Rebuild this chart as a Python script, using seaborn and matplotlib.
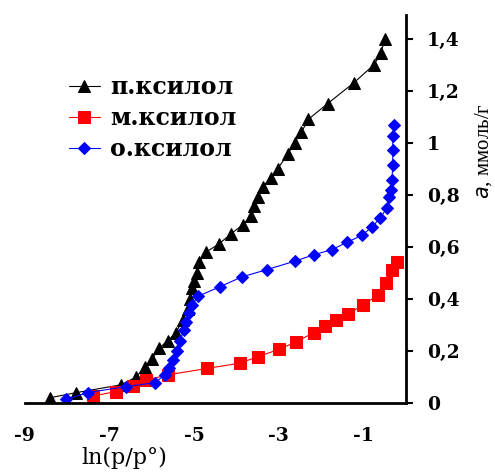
import matplotlib
matplotlib.use("Agg")
import matplotlib.pyplot as plt
import seaborn as sns
import pandas as pd

p_x = [-8.41, -7.78, -6.72, -6.37, -6.15, -5.99, -5.83, -5.62, -5.43, -5.27, -5.15, -5.09,
       -5.04, -5.0, -4.93, -4.88, -4.72, -4.42, -4.13, -3.85, -3.65, -3.58, -3.50, -3.38,
       -3.19, -3.03, -2.79, -2.63, -2.47, -2.30, -1.85, -1.23, -0.75, -0.59, -0.49]
p_y = [0.02, 0.04, 0.07, 0.10, 0.14, 0.17, 0.21, 0.24, 0.27, 0.32, 0.36, 0.40,
       0.44, 0.47, 0.50, 0.54, 0.58, 0.61, 0.65, 0.685, 0.72, 0.755, 0.79, 0.83,
       0.865, 0.90, 0.955, 1.0, 1.04, 1.09, 1.15, 1.23, 1.30, 1.345, 1.40]

m_x = [-7.39, -6.84, -6.45, -6.14, -5.62, -4.69, -3.92, -3.49, -3.0, -2.59, -2.18, -1.91,
       -1.66, -1.36, -1.01, -0.65, -0.47, -0.34, -0.20]
m_y = [0.027, 0.044, 0.067, 0.088, 0.108, 0.133, 0.153, 0.178, 0.206, 0.235, 0.27, 0.296,
       0.319, 0.342, 0.377, 0.415, 0.46, 0.509, 0.54]

o_x = [-8.02, -7.51, -6.61, -5.92, -5.70, -5.59, -5.50, -5.40, -5.33, -5.25, -5.20, -5.12,
       -5.05, -4.91, -4.40, -3.88, -3.29, -2.62, -2.18, -1.75, -1.38, -1.04, -0.79, -0.61,
       -0.45, -0.39, -0.35, -0.33, -0.31, -0.31, -0.31, -0.29]
o_y = [0.014, 0.04, 0.063, 0.078, 0.108, 0.133, 0.165, 0.20, 0.24, 0.28, 0.31, 0.345,
       0.375, 0.41, 0.446, 0.484, 0.512, 0.545, 0.569, 0.589, 0.618, 0.644, 0.678, 0.71,
       0.749, 0.791, 0.819, 0.855, 0.915, 0.973, 1.024, 1.069]

labels = ["п.ксилол", "м.ксилол", "о.ксилол"]
x_ticks = [-9, -7, -5, -3, -1]
y_ticks = [0, 0.2, 0.4, 0.6, 0.8, 1.0, 1.2, 1.4]
y_tick_labels = ["0", "0,2", "0,4", "0,6", "0,8", "1", "1,2", "1,4"]

sns.set_style("white")
plt.rcParams["font.family"] = ["DejaVu Serif", "Liberation Serif"]
plt.rcParams["axes.unicode_minus"] = False
plt.rcParams["text.color"] = "black"
plt.rcParams["axes.labelcolor"] = "black"

fig = plt.figure(figsize=(4.95, 4.73), dpi=100)
ax = fig.add_axes([0.05, 0.148, 0.77, 0.82])

series = [(p_x, p_y, labels[0], "black", "^", 9),
          (m_x, m_y, labels[1], "red", "s", 8),
          (o_x, o_y, labels[2], "blue", "D", 6)]
for xs, ys, lab, col, mk, ms in series:
    df = pd.DataFrame({"x": xs, "y": ys})
    sns.lineplot(data=df, x="x", y="y", ax=ax, color=col, marker=mk, markersize=ms,
                 markeredgecolor=col, linewidth=0.8, estimator=None, sort=False, label=lab)

ax.set_xlim(-9, 0)
ax.set_ylim(0, 1.49)
ax.set_xticks(x_ticks)
ax.set_xticklabels([str(t) for t in x_ticks], fontweight="bold", fontsize=13.5)
ax.yaxis.tick_right()
ax.yaxis.set_label_position("right")
ax.set_yticks(y_ticks)
ax.set_yticklabels(y_tick_labels, fontweight="bold", fontsize=13.5)
for s in ["left", "top"]:
    ax.spines[s].set_visible(False)
for s in ["right", "bottom"]:
    ax.spines[s].set_linewidth(2)
    ax.spines[s].set_color("black")
ax.tick_params(axis="both", direction="out", length=5, width=1.5, colors="black")
ax.tick_params(axis="x", pad=12)
ax.tick_params(axis="y", pad=10)

ax.set_xlabel("ln(p/p°)", fontsize=16, color="black")
ax.xaxis.set_label_coords(0.26, -0.112)
ax.set_ylabel(r"$\mathit{a}$, ммоль/г", fontsize=15, rotation=90, labelpad=8,
              family="Liberation Serif", color="black")
ax.yaxis.set_label_coords(1.175, 0.65)

leg = ax.legend(loc="upper left", bbox_to_anchor=(0.06, 0.9), frameon=False,
                prop={"family": "DejaVu Serif", "weight": "bold", "size": 17},
                handlelength=1.3, handletextpad=0.45, labelspacing=0.3)
for t in leg.get_texts():
    t.set_color("black")
ax.grid(False)

fig.savefig("out.png", dpi=100)
